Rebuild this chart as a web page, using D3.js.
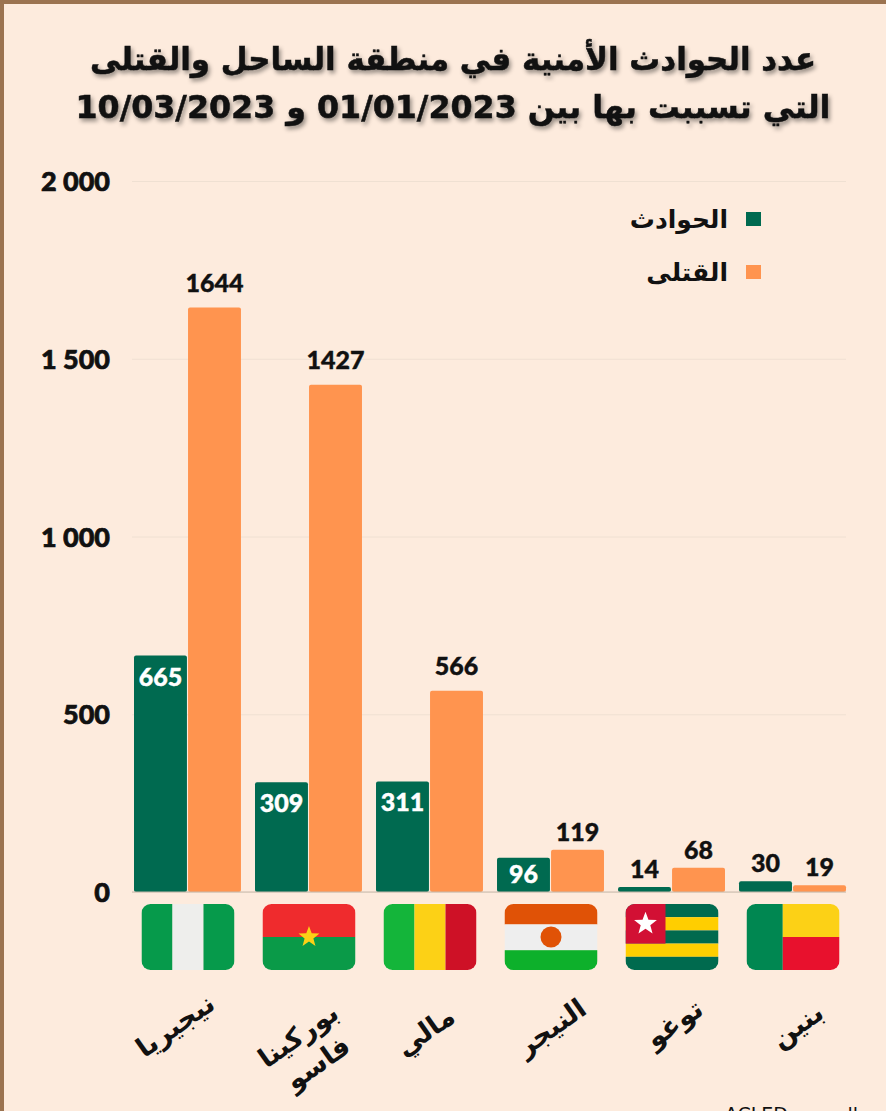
<!DOCTYPE html>
<html>
<head>
<meta charset="utf-8">
<script src="https://cdn.jsdelivr.net/npm/d3@7"></script>
<style>
  html, body { margin: 0; padding: 0; background: #fdebdd; overflow: hidden; }
  text { fill: #111; }
  .title { font: bold 32px "DejaVu Sans"; stroke: #111; stroke-width: 0.5px; filter: drop-shadow(2px 3px 2px rgba(0,0,0,.4)); }
  .tick-label { font: 900 27px Lato; stroke: #111; stroke-width: 0.7px; }
  .value { font: 900 25px Lato; stroke: currentColor; stroke-width: 0.4px; }
  .legend { font: bold 25px "DejaVu Sans"; }
  .country { font: bold 27px "DejaVu Sans"; }
  .source { font: 19px "DejaVu Sans"; direction: rtl; }
</style>
</head>
<body>
<svg id="chart"></svg>
<script>
// chart values
var countries = ["نيجيريا", "بوركينا فاسو", "مالي", "النيجر", "توغو", "بنين"];
var incidents = [665, 309, 311, 96, 14, 30];
var deaths = [1644, 1427, 566, 119, 68, 19];
var yTicks = [0, 500, 1000, 1500, 2000];
var seriesNames = ["الحوادث", "القتلى"];
var seriesColors = ["#006a50", "#ff944f"];
var titleLines = ["عدد الحوادث الأمنية في منطقة الساحل والقتلى", "التي تسببت بها بين 01/01/2023 و 10/03/2023"];
var flagCodes = ["ng", "bf", "ml", "ne", "tg", "bj"];

var svgWidth = 886;
var svgHeight = 1111;

var svg = d3.select("#chart")
  .attr("width", svgWidth)
  .attr("height", svgHeight);

// brown frame on the top and left edge
svg.append("rect").attr("width", svgWidth).attr("height", 4).attr("fill", "#9b7350");
svg.append("rect").attr("width", 4).attr("height", svgHeight).attr("fill", "#9b7350");

// title, squeezed to the width of each line in the original
var titleWidths = [726, 755];
svg.selectAll(".title")
  .data(titleLines)
  .enter()
  .append("text")
  .attr("class", "title")
  .attr("x", 453)
  .attr("y", (d, i) => 70 + i * 48)
  .attr("text-anchor", "middle")
  .attr("textLength", (d, i) => titleWidths[i])
  .attr("lengthAdjust", "spacingAndGlyphs")
  .text(d => d);

// scales
var xScale = d3.scaleBand()
  .domain(countries)
  .range([134, 846])
  .paddingInner(0.116);

var xInner = d3.scaleBand()
  .domain(seriesNames)
  .range([0, xScale.bandwidth()])
  .paddingInner(0.02);

var yScale = d3.scaleLinear()
  .domain([0, 2000])
  .range([892, 181]);

// gridlines + y labels
var yAxis = d3.axisLeft(yScale)
  .tickValues(yTicks)
  .tickSize(-714)
  .tickFormat(d => d >= 1000 ? String(d).charAt(0) + " " + String(d).slice(1) : d);

var yGroup = svg.append("g")
  .attr("transform", "translate(132,0)")
  .call(yAxis);
yGroup.select(".domain").remove();
yGroup.selectAll("line").attr("stroke", "#efe0d2").attr("stroke-width", 1);
yGroup.selectAll("text")
  .attr("class", "tick-label")
  .attr("x", -22)
  .attr("dy", "0.36em")
  .attr("fill", "#111");

// bars
var groups = svg.selectAll(".country-group")
  .data(countries)
  .enter()
  .append("g")
  .attr("class", "country-group")
  .attr("transform", d => `translate(${xScale(d)},0)`);

// where a value label sits relative to the top of its bar
function labelY(value, s) {
  var top = yScale(value);
  if (s === 0 && value > 200) return top + 30;
  if (s === 0 && value > 50) return top + 25;
  return value > 200 ? top - 16 : top - 9;
}

[incidents, deaths].forEach(function(values, s) {
  var name = seriesNames[s];
  groups.append("rect")
    .attr("x", xInner(name))
    .attr("y", (d, i) => yScale(values[i]))
    .attr("width", xInner.bandwidth())
    .attr("height", (d, i) => yScale(0) - yScale(values[i]))
    .attr("rx", 2)
    .attr("fill", seriesColors[s]);

  // labels go inside the tall green bars, above everything else
  groups.append("text")
    .attr("class", "value")
    .attr("x", xInner(name) + xInner.bandwidth() / 2)
    .attr("y", (d, i) => labelY(values[i], s))
    .attr("text-anchor", "middle")
    .style("fill", (d, i) => (s === 0 && values[i] > 50) ? "#fff" : "#111")
    .style("color", (d, i) => (s === 0 && values[i] > 50) ? "#fff" : "#111")
    .text((d, i) => values[i]);
});

// baseline
svg.append("line")
  .attr("x1", 132).attr("x2", 846)
  .attr("y1", yScale(0)).attr("y2", yScale(0))
  .attr("stroke", "#c9b9aa");

// legend
var legend = svg.selectAll(".legend-row")
  .data(seriesNames)
  .enter()
  .append("g")
  .attr("class", "legend-row")
  .attr("transform", (d, i) => `translate(0,${219 + i * 53})`);
legend.append("rect")
  .attr("x", 746).attr("y", -7)
  .attr("width", 15).attr("height", 14)
  .attr("fill", (d, i) => seriesColors[i]);
legend.append("text")
  .attr("class", "legend")
  .attr("x", 728).attr("y", 9)
  .attr("text-anchor", "end")
  .text(d => d);

// flags, each one drawn in a 93x66 box with rounded corners
var flagW = 93, flagH = 66;

function stripes(g, list) {
  list.forEach(function(s) {
    g.append("rect")
      .attr("x", s[0] * flagW).attr("y", s[1] * flagH)
      .attr("width", s[2] * flagW).attr("height", s[3] * flagH)
      .attr("fill", s[4]);
  });
}

function star(g, cx, cy, r, color) {
  var points = d3.range(10).map(function(i) {
    var a = i * Math.PI / 5 - Math.PI / 2;
    var rad = i % 2 ? r * 0.42 : r;
    return [cx + rad * Math.cos(a), cy + rad * Math.sin(a)];
  });
  g.append("polygon").attr("points", points.join(" ")).attr("fill", color);
}

var flagDraw = {
  ng: function(g) {
    stripes(g, [[0, 0, 1 / 3, 1, "#069a4b"], [1 / 3, 0, 1 / 3, 1, "#eeeeec"], [2 / 3, 0, 1 / 3, 1, "#069a4b"]]);
  },
  bf: function(g) {
    stripes(g, [[0, 0, 1, 0.5, "#ef2b2d"], [0, 0.5, 1, 0.5, "#0a9a48"]]);
    star(g, flagW / 2, flagH / 2, 11, "#fcd116");
  },
  ml: function(g) {
    stripes(g, [[0, 0, 1 / 3, 1, "#14b53a"], [1 / 3, 0, 1 / 3, 1, "#fcd116"], [2 / 3, 0, 1 / 3, 1, "#ce1126"]]);
  },
  ne: function(g) {
    stripes(g, [[0, 0, 1, 0.31, "#e05206"], [0, 0.31, 1, 0.39, "#eeeeee"], [0, 0.7, 1, 0.3, "#0db02b"]]);
    g.append("circle").attr("cx", flagW / 2).attr("cy", flagH / 2).attr("r", 10.5).attr("fill", "#e05206");
  },
  tg: function(g) {
    stripes(g, [
      [0, 0, 1, 0.2, "#006a4e"], [0, 0.2, 1, 0.2, "#ffce00"], [0, 0.4, 1, 0.2, "#006a4e"],
      [0, 0.6, 1, 0.2, "#ffce00"], [0, 0.8, 1, 0.2, "#006a4e"], [0, 0, 0.43, 0.6, "#d21034"]
    ]);
    star(g, 0.43 * flagW / 2, 0.3 * flagH, 12, "#fff");
  },
  bj: function(g) {
    stripes(g, [[0, 0, 0.39, 1, "#008751"], [0.39, 0, 0.61, 0.5, "#fcd116"], [0.39, 0.5, 0.61, 0.5, "#e8112d"]]);
  }
};

var defs = svg.append("defs");
defs.append("clipPath").attr("id", "flag-clip")
  .append("rect").attr("width", flagW).attr("height", flagH).attr("rx", 9);

countries.forEach(function(c, i) {
  var g = svg.append("g")
    .attr("transform", `translate(${xScale(c) + xScale.bandwidth() / 2 - flagW / 2 + 0.5},904)`)
    .attr("clip-path", "url(#flag-clip)");
  flagDraw[flagCodes[i]](g);
});

// country names, tilted; burkina faso wraps onto two lines
var labelDx = [-7, -5, 1, 6, 8, 10];
var labelDy = [-2, 8, 4, 0, -4, -2];
var labelBase = 1035;
countries.forEach(function(c, i) {
  var lines = c === "بوركينا فاسو" ? ["بوركينا", "فاسو"] : [c];
  var t = svg.append("text")
    .attr("class", "country")
    .attr("text-anchor", "middle")
    .attr("transform", `translate(${xScale(c) + xScale.bandwidth() / 2 + labelDx[i]},${labelBase + labelDy[i]}) rotate(-35)`);
  lines.forEach(function(l, j) {
    t.append("tspan").attr("x", 0).attr("dy", j ? 34 : 0).text(l);
  });
});

// source line, cut by the bottom edge as in the original
svg.append("text")
  .attr("class", "source")
  .attr("x", 858)
  .attr("y", 1121)
  .text("المصدر: ACLED");
</script>
</body>
</html>
